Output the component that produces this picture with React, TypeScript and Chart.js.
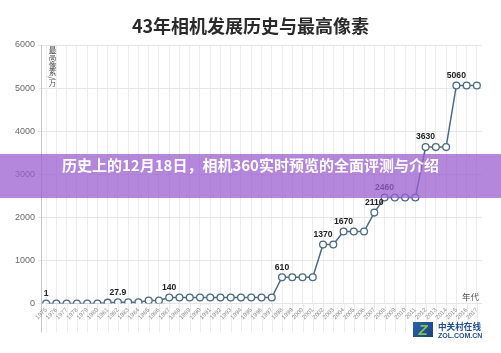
import React, { useEffect, useRef } from "react";
import { Chart, registerables } from "chart.js";

Chart.register(...registerables);

const years = [
  "1975", "1976", "1977", "1978", "1979", "1980", "1981", "1982", "1983", "1984",
  "1985", "1986", "1987", "1988", "1989", "1990", "1991", "1992", "1993", "1994",
  "1995", "1996", "1997", "1998", "1999", "2000", "2001", "2002", "2003", "2004",
  "2005", "2006", "2007", "2008", "2009", "2010", "2011", "2012", "2013", "2014",
  "2015", "2016", "2017",
];

const pixels = [
  1, 1, 1, 1, 1, 1, 20, 27.9, 27.9, 27.9,
  70, 70, 140, 140, 140, 140, 140, 140, 140, 140,
  140, 140, 140, 610, 610, 610, 610, 1370, 1370, 1670,
  1670, 1670, 2110, 2460, 2460, 2460, 2460, 3630, 3630, 3630,
  5060, 5060, 5060,
];

const labeledYears = ["1975", "1982", "1987", "1998", "2002", "2004", "2007", "2008", "2012", "2015"];

const yTicks = [0, 1000, 2000, 3000, 4000, 5000, 6000];

const title = "43年相机发展历史与最高像素";
const yTitle = "最高像素/万";
const xTitle = "年代";
const banner = "历史上的12月18日，相机360实时预览的全面评测与介绍";

const LINE = "#4c6a84";
const SANS = '"Liberation Sans", Arial, sans-serif';
const CJK = '"Noto Sans CJK SC", "Noto Sans", sans-serif';

const extraPlugin = {
  id: "extras",
  beforeDraw(chart: any) {
    const { ctx, chartArea } = chart;
    const x = chart.scales.x;
    ctx.save();
    ctx.strokeStyle = "#ececec";
    ctx.lineWidth = 1;
    for (let i = 0; i < years.length; i++) {
      const px = Math.round(x.getPixelForTick(i)) + 0.5;
      ctx.beginPath();
      ctx.moveTo(px, chartArea.bottom);
      ctx.lineTo(px, chartArea.bottom + 29);
      ctx.stroke();
    }
    ctx.strokeStyle = "#c8c8c8";
    ctx.beginPath();
    ctx.moveTo(chartArea.left + 0.5, chartArea.bottom);
    ctx.lineTo(chartArea.left + 0.5, chartArea.bottom + 29);
    ctx.stroke();
    ctx.restore();
  },
  afterDatasetsDraw(chart: any) {
    const { ctx } = chart;
    const meta = chart.getDatasetMeta(0);
    ctx.save();
    ctx.font = "bold 8.6px " + SANS;
    ctx.fillStyle = "#222";
    ctx.textAlign = "center";
    ctx.textBaseline = "middle";
    labeledYears.forEach((yr) => {
      const i = years.indexOf(yr);
      if (i < 0) return;
      const el = meta.data[i];
      ctx.fillText(String(pixels[i]), el.x, el.y - 10);
    });
    ctx.restore();
  },
};

export default function App() {
  const ref = useRef<HTMLCanvasElement>(null);
  useEffect(() => {
    if (!ref.current) return;
    const chart = new Chart(ref.current, {
      type: "line",
      data: {
        labels: years,
        datasets: [
          {
            data: pixels,
            borderColor: LINE,
            borderWidth: 1.5,
            pointRadius: 3.4,
            pointBorderWidth: 1.3,
            pointBackgroundColor: "#ffffff",
            pointBorderColor: LINE,
            tension: 0,
          },
        ],
      },
      options: {
        responsive: false,
        animation: false,
        layout: { padding: { left: 8, top: 45, right: 19, bottom: 9.5 } },
        plugins: {
          legend: { display: false },
          tooltip: { enabled: false },
          title: { display: false },
        },
        scales: {
          x: {
            offset: true,
            grid: { color: "#ececec", drawTicks: false, offset: false },
            border: { display: false },
            ticks: {
              autoSkip: false,
              minRotation: 45,
              maxRotation: 45,
              padding: 3,
              color: "#8a8a8a",
              font: { size: 6, family: SANS },
            },
            afterFit(scale: any) {
              scale.height = 40;
            },
          },
          y: {
            min: 0,
            max: 6000,
            afterBuildTicks(scale: any) {
              scale.ticks = yTicks.map((v) => ({ value: v }));
            },
            grid: { color: "#e6e6e6", tickLength: 3 },
            border: { display: true, color: "#c8c8c8" },
            ticks: {
              padding: 3,
              color: "#6a6a6a",
              font: { size: 9, family: SANS },
              callback: (v: any) => String(v),
            },
            afterFit(scale: any) {
              scale.width = 33;
            },
          },
        },
      },
      plugins: [extraPlugin],
    });
    return () => chart.destroy();
  }, []);

  return (
    <div style={{ position: "fixed", left: 0, top: 0, width: 501, height: 353, background: "#fff", overflow: "hidden" }}>
      <canvas ref={ref} width={501} height={353} style={{ position: "absolute", left: 0, top: 0, width: 501, height: 353 }} />
      <div
        style={{
          position: "absolute", left: 0, top: 13, width: 501, textAlign: "center",
          font: `bold 18px ${CJK}`, color: "#2a2a2a", lineHeight: "24px",
        }}
      >
        {title}
      </div>
      <div
        style={{
          position: "absolute", left: 47, top: 46, writingMode: "vertical-rl",
          font: `7.6px ${CJK}`, color: "#555", lineHeight: "10px", letterSpacing: 0,
        }}
      >
        {yTitle}
      </div>
      <div style={{ position: "absolute", left: 462, top: 290, font: `8.5px ${CJK}`, color: "#555", lineHeight: "12px" }}>
        {xTitle}
      </div>
      <div
        style={{
          position: "absolute", left: 0, top: 154, width: 501, height: 44,
          background: "rgba(155, 95, 210, 0.75)",
        }}
      />
      <div
        style={{
          position: "absolute", left: 0, top: 154, width: 501, height: 44, lineHeight: "44px",
          textAlign: "center", color: "#fff", font: `bold 15px ${CJK}`,
        }}
      >
        {banner}
      </div>
      <div
        style={{
          position: "absolute", left: 413, top: 322, width: 20, height: 15,
          background: "linear-gradient(135deg, #2b63b0, #1a3f80)",
          color: "#7cc84a", font: `bold italic 15px ${SANS}`, lineHeight: "15px", textAlign: "center",
        }}
      >
        Z
      </div>
      <div style={{ position: "absolute", left: 438, top: 320, font: `bold 8.6px ${CJK}`, color: "#1d4f9a", lineHeight: "12px" }}>
        中关村在线
      </div>
      <div style={{ position: "absolute", left: 438, top: 331, font: `bold 7px ${SANS}`, color: "#1d4f9a", lineHeight: "9px" }}>
        ZOL.COM.CN
      </div>
    </div>
  );
}
